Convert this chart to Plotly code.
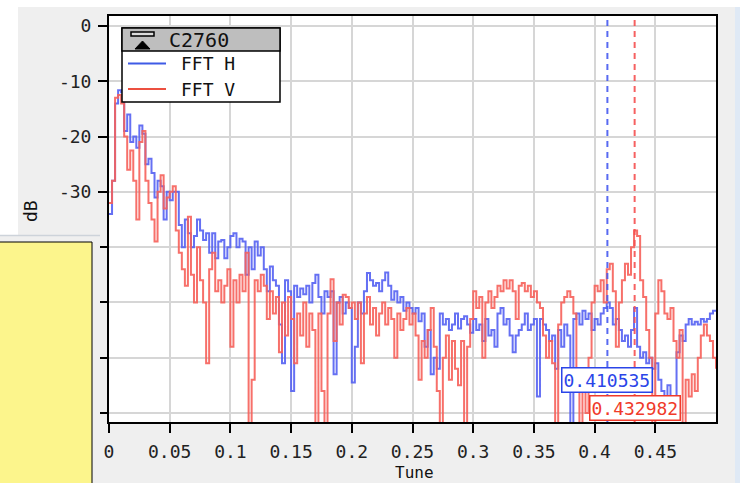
import plotly.graph_objects as go

# ---------------- data ----------------
tune_step = 0.0025  # frequency bin spacing (tune units)

fft_h = [
    -34, -28, -14, -11.6, -12, -19, -16, -21, -20, -22,
    -18, -19.5, -25, -24, -26.6, -31, -28, -29, -35, -30,
    -31.5, -30, -30, -36, -40, -35, -37.5, -40, -38, -35,
    -37, -38.7, -37.5, -41, -37.5, -42, -39, -38.7, -42, -40,
    -38, -37.5, -40, -38.5, -39, -45, -40, -44, -39, -41.5,
    -40, -44, -48, -43.5, -46, -47, -54, -61, -46, -48,
    -66, -47, -49, -47.5, -48.5, -47, -50, -46.5, -45, -49,
    -52, -48, -49, -48, -63, -50, -49, -52, -50, -51,
    -64.5, -58, -50, -52, -48, -44.7, -46, -47, -46.5, -48,
    -46, -44.6, -47, -49.5, -48, -50, -49, -51.5, -50, -51,
    -52, -51, -53.4, -52, -58, -55, -63, -60, -62, -52,
    -54, -53, -55, -54, -52, -54.7, -53, -52.5, -54, -55.5,
    -53, -55, -54, -57, -53, -56, -55, -58, -52, -51,
    -54, -53, -56, -59, -56, -55, -54, -52, -55, -54,
    -53, -67, -53, -54, -55, -57, -56, -62, -55, -58,
    -54, -56, -72, -53, -52, -54, -51.5, -53, -52, -55,
    -53, -54, -52, -51, -50, -51, -54, -53, -55, -57,
    -56, -58, -55, -51, -58, -60, -59, -61, -60, -62,
    -61, -64, -66, -68, -65, -70, -67, -59, -56, -57,
    -54, -53, -54, -53.5, -54, -53, -53.5, -53, -52, -51.5,
    -51.7,
]

fft_v = [
    -32, -28, -13, -12.5, -14, -20, -26, -22.5, -28, -35,
    -21, -19, -28, -32, -35, -39, -30, -27, -33, -31,
    -30, -29, -37, -41, -44, -47, -34.5, -45, -50, -40,
    -46, -50, -61, -44, -41, -48, -46, -50, -47, -44,
    -58, -46, -50, -45, -48, -41, -74, -64, -46, -48,
    -45, -47, -53, -48, -52, -49, -59, -50, -56, -49,
    -53, -61, -52, -56, -50, -58, -52, -55, -74, -52,
    -66, -74, -52, -45.8, -57, -50, -54, -48.6, -49, -51,
    -50, -53, -50, -61, -52, -49, -54, -51, -56, -52,
    -50, -54, -51, -53, -60, -52, -55, -53, -51, -54,
    -52, -56, -64, -57, -60, -55, -51, -58, -66, -74,
    -60, -56, -64, -57, -62, -65, -57, -74, -58, -53,
    -48, -51, -49, -60, -50, -48, -51, -49, -47, -48,
    -46, -47.5, -46, -48, -53, -47, -46.5, -48, -47, -49,
    -48, -50, -51, -56, -60, -57, -61, -74, -54, -50,
    -49, -48, -49, -52, -62, -74, -66, -70, -60, -50,
    -47, -48, -46, -50, -44, -43, -48, -58, -50, -46,
    -43, -45, -40, -37, -38, -46, -49, -55, -60, -74,
    -52, -46, -48, -52, -53, -51, -57, -60, -55, -74,
    -64, -67, -63, -66, -60, -56, -54, -56, -57, -60,
    -62,
]

tune = [round(i * tune_step, 6) for i in range(len(fft_h))]

series_names = ["FFT H", "FFT V"]
legend_title = "C2760"
marker_h = 0.410535
marker_v = 0.432982

x_tickvals = [0, 0.05, 0.1, 0.15, 0.2, 0.25, 0.3, 0.35, 0.4, 0.45]
x_ticktext = ["0", "0.05", "0.1", "0.15", "0.2", "0.25", "0.3", "0.35", "0.4", "0.45"]
y_tickvals = [0, -10, -20, -30, -40, -50, -60, -70]
y_ticktext = ["0", "-10", "-20", "-30", "-40", "-50", "-60", "-70"]

# ---------------- geometry helpers (pixel -> paper) ----------------
W, H = 740, 483
L, R, T, B = 109, 716, 16, 422


def px(x):
    return (x - L) / (R - L)


def py(y):
    return (B - y) / (B - T)


MONO = "DejaVu Sans Mono"
BLUE_LINE = "rgba(84,96,242,0.9)"
RED_LINE = "rgba(246,96,90,0.9)"

fig = go.Figure()
fig.add_trace(go.Scatter(x=tune, y=fft_h, mode="lines", name=series_names[0],
                         line=dict(color=BLUE_LINE, width=2, shape="hv"), showlegend=False))
fig.add_trace(go.Scatter(x=tune, y=fft_v, mode="lines", name=series_names[1],
                         line=dict(color=RED_LINE, width=2, shape="hv"), showlegend=False))

shapes = []
# white strips outside the grey panel
shapes.append(dict(type="rect", xref="paper", yref="paper", x0=px(0), x1=px(18), y0=py(235), y1=py(0),
                   fillcolor="white", line=dict(width=0), layer="below"))
shapes.append(dict(type="rect", xref="paper", yref="paper", x0=px(0), x1=px(740), y0=py(7), y1=py(0),
                   fillcolor="white", line=dict(width=0), layer="below"))
shapes.append(dict(type="rect", xref="paper", yref="paper", x0=px(735), x1=px(740), y0=py(483), y1=py(7),
                   fillcolor="#dfe9f5", line=dict(width=0), layer="below"))
# grey bar + yellow box on left
shapes.append(dict(type="rect", xref="paper", yref="paper", x0=px(0), x1=px(100), y0=py(483), y1=py(235),
                   fillcolor="#efefef", line=dict(width=0), layer="above"))
shapes.append(dict(type="line", xref="paper", yref="paper", x0=px(0), x1=px(100), y0=py(235.5), y1=py(235.5),
                   line=dict(color="#cdd3da", width=1.5), layer="above"))
shapes.append(dict(type="rect", xref="paper", yref="paper", x0=px(-2), x1=px(92), y0=py(490), y1=py(242),
                   fillcolor="#fcf58c", line=dict(color="black", width=1), layer="above"))

# marker dashed lines
shapes.append(dict(type="line", xref="x", yref="paper", x0=marker_h, x1=marker_h, y0=0, y1=1,
                   line=dict(color="rgba(70,90,240,0.9)", width=2, dash="6px,5px"), layer="above"))
shapes.append(dict(type="line", xref="x", yref="paper", x0=marker_v, x1=marker_v, y0=0, y1=1,
                   line=dict(color="rgba(245,80,80,0.9)", width=2, dash="6px,5px"), layer="above"))

# legend box
shapes.append(dict(type="rect", xref="paper", yref="paper", x0=px(122), x1=px(280), y0=py(102), y1=py(28),
                   fillcolor="white", line=dict(color="black", width=1.5), layer="above"))
shapes.append(dict(type="rect", xref="paper", yref="paper", x0=px(122), x1=px(280), y0=py(51), y1=py(28),
                   fillcolor="#bebebe", line=dict(color="black", width=1.5), layer="above"))
shapes.append(dict(type="rect", xref="paper", yref="paper", x0=px(131), x1=px(154), y0=py(36), y1=py(32),
                   fillcolor="#dcdcdc", line=dict(color="black", width=1.5), layer="above"))
tri = "M {:.5f},{:.5f} L {:.5f},{:.5f} L {:.5f},{:.5f} Z".format(
    px(135), py(49), px(150), py(49), px(142.5), py(41))
shapes.append(dict(type="path", xref="paper", yref="paper", path=tri,
                   fillcolor="black", line=dict(color="black", width=1), layer="above"))
shapes.append(dict(type="line", xref="paper", yref="paper", x0=px(128), x1=px(166), y0=py(63.5), y1=py(63.5),
                   line=dict(color="#3f5be6", width=2), layer="above"))
shapes.append(dict(type="line", xref="paper", yref="paper", x0=px(128), x1=px(166), y0=py(89), y1=py(89),
                   line=dict(color="#ec5040", width=2), layer="above"))

annotations = []
annotations.append(dict(xref="paper", yref="paper", x=px(167), y=py(39.5), text=legend_title,
                        showarrow=False, xanchor="left", yanchor="middle",
                        font=dict(family=MONO, size=20, color="#111")))
annotations.append(dict(xref="paper", yref="paper", x=px(179), y=py(64), text=series_names[0],
                        showarrow=False, xanchor="left", yanchor="middle",
                        font=dict(family=MONO, size=18, color="#111")))
annotations.append(dict(xref="paper", yref="paper", x=px(179), y=py(89.5), text=series_names[1],
                        showarrow=False, xanchor="left", yanchor="middle",
                        font=dict(family=MONO, size=18, color="#111")))
# marker value labels
annotations.append(dict(xref="x", yref="paper", x=marker_h, y=py(380), text=f"{marker_h:.6f}",
                        showarrow=False, xanchor="center", yanchor="middle",
                        font=dict(family=MONO, size=18, color="#2b45e8"),
                        bgcolor="white", bordercolor="#2b45e8", borderwidth=1.5, borderpad=1))
annotations.append(dict(xref="x", yref="paper", x=marker_v, y=py(408), text=f"{marker_v:.6f}",
                        showarrow=False, xanchor="center", yanchor="middle",
                        font=dict(family=MONO, size=18, color="#f03a2a"),
                        bgcolor="white", bordercolor="#f03a2a", borderwidth=1.5, borderpad=1))
# axis titles
annotations.append(dict(xref="paper", yref="paper", x=px(30), y=py(211), text="dB", textangle=-90,
                        showarrow=False, xanchor="center", yanchor="middle",
                        font=dict(family=MONO, size=18, color="#111")))
annotations.append(dict(xref="paper", yref="paper", x=px(414), y=py(461), text="Tune",
                        showarrow=False, xanchor="center", yanchor="top",
                        font=dict(family=MONO, size=16, color="#111")))

axis_common = dict(showline=True, linecolor="black", linewidth=2, mirror=True,
                   ticks="outside", ticklen=9, tickwidth=2, tickcolor="black",
                   showgrid=True, gridcolor="#d6d6d6", gridwidth=2, zeroline=False,
                   tickfont=dict(family=MONO, size=18, color="#222"))

fig.update_layout(
    width=W, height=H,
    margin=dict(l=L, r=W - R, t=T, b=H - B, pad=0),
    paper_bgcolor="#efefef", plot_bgcolor="white",
    xaxis=dict(range=[0, 0.5], tickmode="array", tickvals=x_tickvals, ticktext=x_ticktext,
               ticklabelstandoff=3, **axis_common),
    yaxis=dict(range=[-71.63, 1.81], tickmode="array", tickvals=y_tickvals, ticktext=y_ticktext,
               ticklabelstandoff=3, **axis_common),
    shapes=shapes, annotations=annotations, showlegend=False,
)

fig.write_html("out.html", config={"displayModeBar": False},
               post_script="document.body.style.margin='0px';document.body.style.overflow='hidden';")
